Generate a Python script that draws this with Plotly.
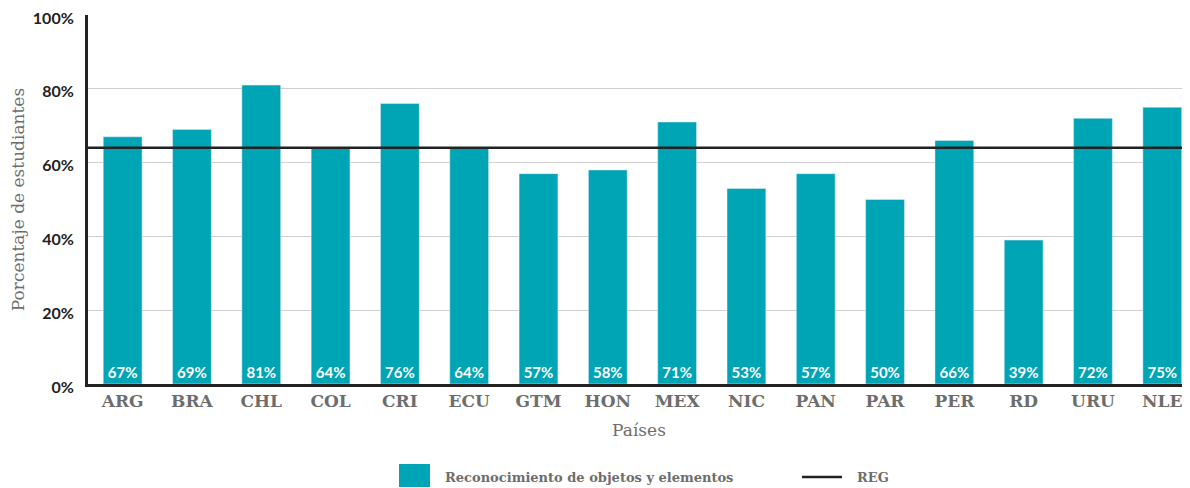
import plotly.graph_objects as go

countries = ["ARG", "BRA", "CHL", "COL", "CRI", "ECU", "GTM", "HON", "MEX", "NIC", "PAN", "PAR", "PER", "RD", "URU", "NLE"]
values = [67, 69, 81, 64, 76, 64, 57, 58, 71, 53, 57, 50, 66, 39, 72, 75]
reg_value = 64
y_ticks = [0, 20, 40, 60, 80, 100]
y_tick_labels = [f"{v}%" for v in y_ticks]
series_name = "Reconocimiento de objetos y elementos"
reg_name = "REG"

teal = "#00a5b5"
serif = "DejaVu Serif"

# page has an 8px body margin; plot area spans x 88..1190, y 15..384 in the window
PL, PT, PB = 88, 15, 384
PW = 1190 - PL
PH = PB - PT


def px_x(x):
    return (x - PL) / PW


def px_y(y):
    return (PB - y) / PH


fig = go.Figure()
fig.add_trace(go.Bar(
    x=countries, y=values, marker_color=teal, name=series_name,
    text=[f"{v}%" for v in values], textposition="inside", insidetextanchor="start",
    textfont=dict(family="Lato", size=15, color="white", weight="bold"),
    textangle=0, showlegend=False, cliponaxis=False,
))
fig.add_shape(type="line", xref="paper", x0=0, x1=1, yref="y", y0=reg_value, y1=reg_value,
              line=dict(color="#222222", width=2.5))

# custom legend
fig.add_shape(type="rect", xref="paper", yref="paper", x0=px_x(399), x1=px_x(430),
              y0=px_y(487), y1=px_y(464), fillcolor=teal, line_width=0)
fig.add_annotation(xref="paper", yref="paper", x=px_x(443), y=px_y(477), xanchor="left", yanchor="middle",
                   text=series_name, showarrow=False,
                   font=dict(family=serif, size=13, color="#6d6d6d", weight="bold"))
fig.add_shape(type="line", xref="paper", yref="paper", x0=px_x(802), x1=px_x(842),
              y0=px_y(477), y1=px_y(477), line=dict(color="#222222", width=2.5))
fig.add_annotation(xref="paper", yref="paper", x=px_x(855), y=px_y(477), xanchor="left", yanchor="middle",
                   text=reg_name, showarrow=False,
                   font=dict(family=serif, size=13, color="#6d6d6d", weight="bold"))

fig.update_layout(
    width=1182, height=480,
    margin=dict(l=PL - 8, r=0, t=PT - 8, b=480 + 8 - PB, autoexpand=False),
    plot_bgcolor="white", paper_bgcolor="white",
    bargap=0.44,
    xaxis=dict(range=[-0.5, 15.4], tickfont=dict(family=serif, size=17, color="#6d6d6d", weight="bold"),
               showline=True, linecolor="#222222", linewidth=3, ticks="", showgrid=False, automargin=False,
               title=dict(text="Países", font=dict(family=serif, size=17, color="#6d6d6d"), standoff=14)),
    yaxis=dict(range=[0, 100], tickvals=y_ticks, ticktext=y_tick_labels,
               tickfont=dict(family="Lato", size=16, color="#222222", weight="bold"),
               showline=True, linecolor="#222222", linewidth=3, gridcolor="#d0d0d0", gridwidth=1,
               zeroline=False, ticks="", ticklabelstandoff=8, ticklabelshift=3, automargin=False,
               ticklabeloverflow="allow",
               title=dict(text="Porcentaje de estudiantes", font=dict(family=serif, size=17, color="#6d6d6d"), standoff=12)),
)
fig.write_html("out.html")
